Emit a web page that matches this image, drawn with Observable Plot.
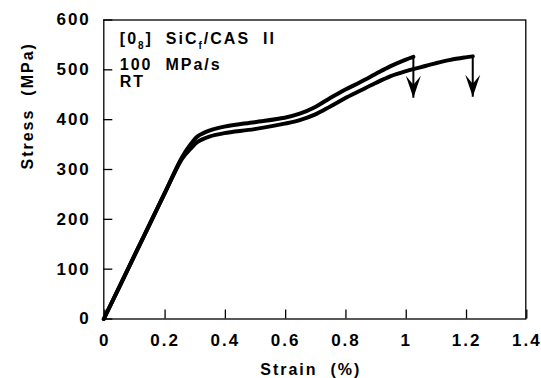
<!DOCTYPE html>
<html><head><meta charset="utf-8">
<script src="https://cdn.jsdelivr.net/npm/d3@7"></script>
<script src="https://cdn.jsdelivr.net/npm/@observablehq/plot@0.6"></script>
<style>
html,body{margin:0;padding:0;background:#fff;}
svg text{letter-spacing:2px; white-space:pre;}
</style></head><body><div id="chart"></div>
<script>
// Upper (shorter) specimen curve
const strainUpper = [0, 0.1, 0.2, 0.26, 0.29, 0.31, 0.35, 0.4, 0.5, 0.6, 0.65, 0.7, 0.75, 0.8, 0.85, 0.9, 0.95, 1.0, 1.027];
const stressUpper = [0, 125, 250, 325, 352, 366, 378, 386, 395, 404, 412, 425, 443, 460, 475, 491, 507, 520, 526];
// Lower (longer) specimen curve
const strainLower = [0, 0.1, 0.2, 0.26, 0.29, 0.31, 0.35, 0.4, 0.5, 0.6, 0.65, 0.7, 0.75, 0.8, 0.85, 0.9, 0.95, 1.0, 1.05, 1.1, 1.15, 1.2, 1.224];
const stressLower = [0, 125, 250, 322, 343, 355, 366, 373, 381, 392, 399, 410, 426, 443, 458, 473, 487, 497, 505, 513, 520, 525, 527];
// Failure arrows
const failureStrain = [1.027, 1.224];
const failureStress = [526, 527];
const arrowTipStress = [444, 446];
// Axes
const xTicks = [0, 0.2, 0.4, 0.6, 0.8, 1, 1.2, 1.4];
const xTickLabels = ["0", "0.2", "0.4", "0.6", "0.8", "1", "1.2", "1.4"];
const yTicks = [0, 100, 200, 300, 400, 500, 600];
const xLabel = "Strain  (%)";
const yLabel = "Stress  (MPa)";
// Annotation
const noteLine1Parts = [["[0", false], ["8", true], ["]  SiC", false], ["f", true], ["/CAS  II", false]];
const noteLine2 = "100  MPa/s";
const noteLine3 = "RT";

const upper = strainUpper.map((s, i) => ({strain: s, stress: stressUpper[i]}));
const lower = strainLower.map((s, i) => ({strain: s, stress: stressLower[i]}));
const arrows = failureStrain.map((s, i) => ({strain: s, top: failureStress[i], tip: arrowTipStress[i]}));
const noteLine1Plain = noteLine1Parts.map(p => p[0]).join("");

const arrowHead = {
  draw(ctx) {
    ctx.moveTo(0, 0);
    ctx.lineTo(-7.5, -22);
    ctx.lineTo(0, -13);
    ctx.lineTo(7.5, -22);
    ctx.closePath();
  }
};

const font = '"Liberation Sans", Arial, Helvetica, sans-serif';

const chart = Plot.plot({
  width: 541,
  height: 378,
  marginLeft: 103.3,
  marginRight: 15.7,
  marginTop: 19.5,
  marginBottom: 59.5,
  x: {domain: [0, 1.4]},
  y: {domain: [0, 600]},
  style: {fontFamily: font, fontWeight: "bold", fontSize: "17px", color: "#000", background: "#fff"},
  marks: [
    Plot.frame({stroke: "#000", strokeWidth: 1.3}),
    Plot.axisX(xTicks, {tickSize: -9, tickPadding: 23.5, tickFormat: (d, i) => xTickLabels[xTicks.indexOf(d)], fontSize: 17, label: null, strokeWidth: 1.3, dx: 1}),
    Plot.axisY(yTicks, {tickSize: -9, tickPadding: 22, label: null, fontSize: 17, strokeWidth: 1.3}),
    Plot.line(lower, {x: "strain", y: "stress", stroke: "#000", strokeWidth: 4, curve: "catmull-rom"}),
    Plot.line(upper, {x: "strain", y: "stress", stroke: "#000", strokeWidth: 4, curve: "catmull-rom"}),
    Plot.link(arrows, {x1: "strain", x2: "strain", y1: "top", y2: "tip", stroke: "#000", strokeWidth: 2}),
    Plot.dot(arrows, {x: "strain", y: "tip", symbol: arrowHead, fill: "#000", stroke: null}),
    Plot.text([noteLine1Plain], {frameAnchor: "top-left", dx: 16, dy: 12.2, lineAnchor: "top", textAnchor: "start", fontSize: 16, text: d => d}),
    Plot.text([noteLine2], {frameAnchor: "top-left", dx: 16, dy: 38.5, lineAnchor: "top", textAnchor: "start", fontSize: 16, text: d => d}),
    Plot.text([noteLine3], {frameAnchor: "top-left", dx: 16, dy: 55.5, lineAnchor: "top", textAnchor: "start", fontSize: 16, text: d => d}),
    Plot.text([xLabel], {frameAnchor: "bottom", dy: 51, dx: -4, lineAnchor: "middle", fontSize: 16, text: d => d}),
    Plot.text([yLabel], {frameAnchor: "left", dx: -76, rotate: -90, lineAnchor: "middle", fontSize: 16, text: d => d})
  ]
});

document.getElementById("chart").appendChild(chart);

// Rebuild the first annotation line with subscripts
d3.select(chart).selectAll("text").each(function() {
  if (this.textContent === noteLine1Plain && this.childElementCount === 0) {
    const t = d3.select(this);
    t.text(null);
    let wasSub = false;
    noteLine1Parts.forEach(([str, sub]) => {
      const ts = t.append("tspan").text(str);
      if (sub) { ts.attr("font-size", 10).attr("dy", wasSub ? 0 : 5); }
      else if (wasSub) { ts.attr("dy", -5); }
      wasSub = sub;
    });
  }
});
</script>
</body></html>
